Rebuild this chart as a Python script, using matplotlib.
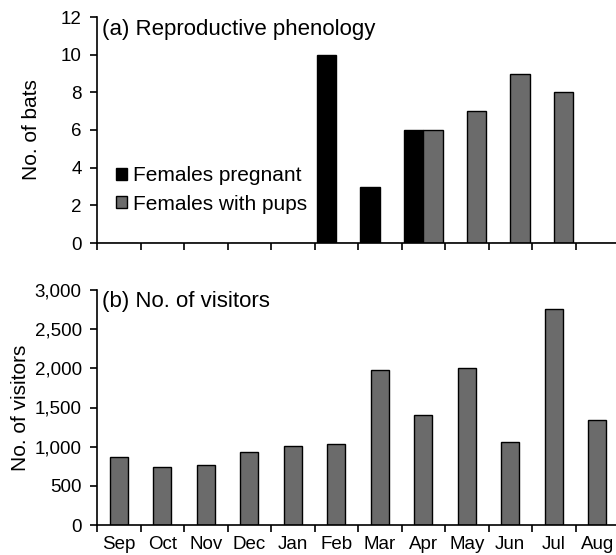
import matplotlib
matplotlib.use("Agg")
import matplotlib.pyplot as plt
import numpy as np
from matplotlib.ticker import FuncFormatter, FixedLocator

plt.rcParams['font.family'] = ['Liberation Sans', 'DejaVu Sans']

months = ["Sep", "Oct", "Nov", "Dec", "Jan", "Feb", "Mar", "Apr", "May", "Jun", "Jul", "Aug"]
pregnant = [0, 0, 0, 0, 0, 10, 3, 6, 0, 0, 0, 0]
with_pups = [0, 0, 0, 0, 0, 0, 0, 6, 7, 9, 8, 0]
visitors = [870, 740, 765, 928, 1007, 1037, 1973, 1409, 1998, 1062, 2759, 1338]

GRAY = "#6b6b6b"
W, H = 616, 555
fig = plt.figure(figsize=(W / 100, H / 100), dpi=100)

def ax_rect(x0, y0, x1, y1):
    return [x0 / W, 1 - y1 / H, (x1 - x0) / W, (y1 - y0) / H]

ax1 = fig.add_axes(ax_rect(97, 17, 619, 243))
ax2 = fig.add_axes(ax_rect(97, 290, 619, 525))

x = np.arange(len(months)) + 0.5
bw1 = 0.45
bw2 = 0.42

ax1.bar(x - bw1 / 2, pregnant, width=bw1, color="black", edgecolor="black", linewidth=1, label="Females pregnant")
ax1.bar(x + bw1 / 2, with_pups, width=bw1, color=GRAY, edgecolor="black", linewidth=1, label="Females with pups")
ax2.bar(x, visitors, width=bw2, color=GRAY, edgecolor="black", linewidth=1)

for ax in (ax1, ax2):
    ax.set_xlim(0, 12)
    ax.spines['top'].set_visible(False)
    ax.spines['right'].set_visible(False)
    ax.spines['left'].set_linewidth(1.2)
    ax.spines['bottom'].set_linewidth(1.2)
    ax.xaxis.set_major_locator(FixedLocator(np.arange(0, 13)))
    ax.xaxis.set_minor_locator(FixedLocator(x))
    ax.tick_params(axis='x', which='major', length=5, width=1.2, labelbottom=False, direction='out')
    ax.tick_params(axis='x', which='minor', length=0)
    ax.tick_params(axis='y', length=5, width=1.2, direction='out', labelsize=13.5, pad=6)

ax1.set_ylim(0, 12)
ax1.set_yticks(range(0, 13, 2))
ax1.set_ylabel("No. of bats", fontsize=15)
ax1.yaxis.set_label_coords((41 - 97) / 522, 0.5)
ax1.text(0.009, 0.9425, "(a) Reproductive phenology", transform=ax1.transAxes,
         fontsize=16, va="center", ha="left")
ax1.legend(loc="center left", bbox_to_anchor=(0.036, 0.235), frameon=False, fontsize=15,
           handlelength=0.53, handleheight=0.53, handletextpad=0.3, labelspacing=0.45,
           borderaxespad=0, borderpad=0)

ax2.set_ylim(0, 3000)
ax2.set_yticks(range(0, 3001, 500))
ax2.yaxis.set_major_formatter(FuncFormatter(lambda v, p: f"{int(v):,}"))
ax2.set_ylabel("No. of visitors", fontsize=15)
ax2.yaxis.set_label_coords((30 - 97) / 522, 0.5)
ax2.set_xticklabels(months, minor=True)
ax2.tick_params(axis='x', which='minor', labelbottom=True, labelsize=13.5, pad=8)
ax2.text(0.009, 0.953, "(b) No. of visitors", transform=ax2.transAxes,
         fontsize=16, va="center", ha="left")

fig.savefig("out.png", dpi=100)
